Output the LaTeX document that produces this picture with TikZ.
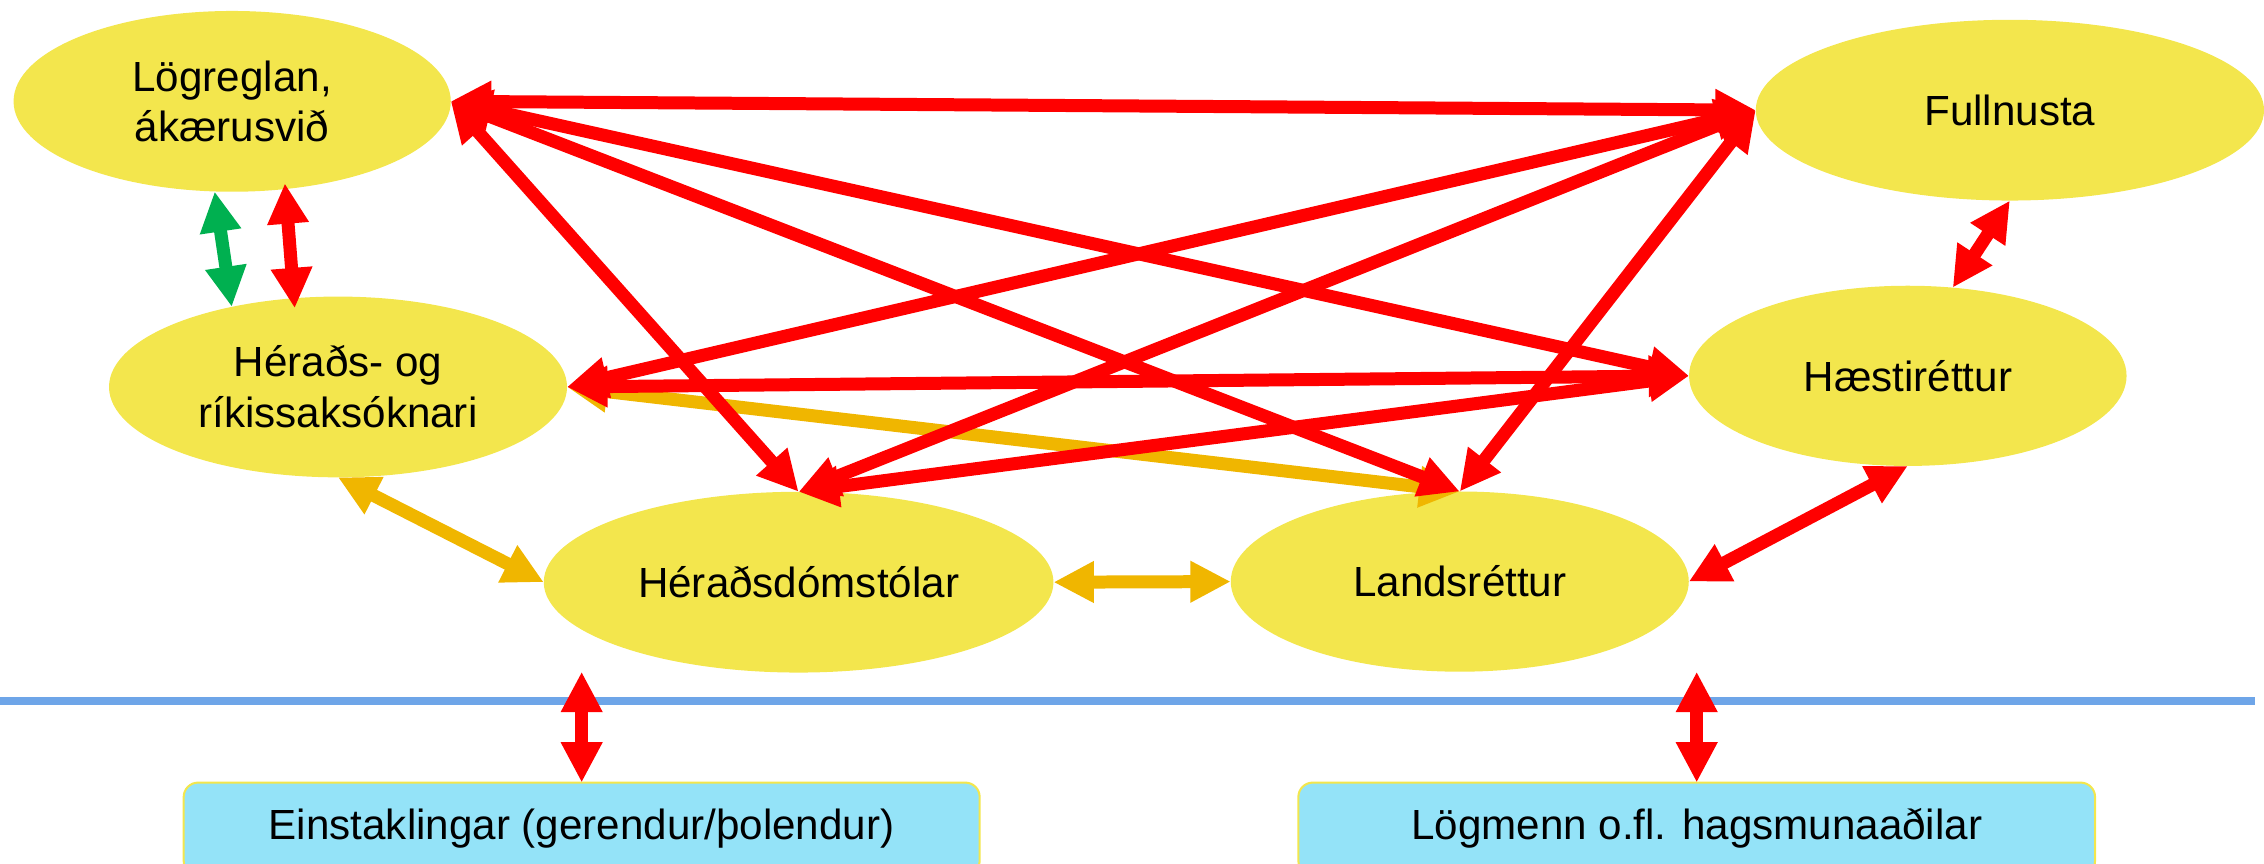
\documentclass[tikz,border=0pt]{standalone}
\usepackage{fontspec}
\setmainfont{Liberation Sans}[Ligatures=NoCommon]
\usetikzlibrary{arrows.meta,shapes.geometric,calc}
\definecolor{ellY}{RGB}{243,230,77}
\definecolor{arrY}{RGB}{240,182,0}
\definecolor{arrG}{RGB}{0,176,80}
\definecolor{arrR}{RGB}{255,0,0}
\definecolor{boxC}{RGB}{148,227,248}
\definecolor{lineB}{RGB}{110,165,232}
\begin{document}
\begin{tikzpicture}[x=0.5pt,y=-0.5pt,
  ell/.style={ellipse, fill=ellY, inner sep=0pt, outer sep=0pt, align=center,
    font=\fontsize{14.6}{17.6}\selectfont},
  box/.style={rectangle, rounded corners=5pt, fill=boxC, draw=ellY, line width=0.7pt,
    inner sep=0pt, outer sep=0pt, font=\fontsize{14.6}{17.6}\selectfont},
  tip/.tip={Triangle[length=14pt,width=13.5pt]},
  conn/.style={line width=4.5pt, tip-tip},
  rconn/.style={conn, draw=arrR, fill=arrR},
  yconn/.style={conn, draw=arrY, fill=arrY},
  gconn/.style={conn, draw=arrG, fill=arrG}]
\useasboundingbox (0,0) rectangle (1568,598);
\clip (0,0) rectangle (1568,598);

% separator line
\draw[lineB, line width=2.75pt] (0,485.7) -- (1561.6,485.7);

% ellipses
\node[ell, minimum width=151.4pt, minimum height=62.6pt] (L) at (160.8,70.2) {Lögreglan,\\ ákærusvið};
\node[ell, minimum width=176pt, minimum height=62.6pt] (F) at (1392,76.3) {Fullnusta};
\node[ell, minimum width=158.6pt, minimum height=62.6pt] (H) at (234.1,268) {Héraðs- og\\ ríkissaksóknari};
\node[ell, minimum width=151.5pt, minimum height=62.4pt] (Hs) at (1321.3,260.3) {Hæstiréttur};
\node[ell, minimum width=176.5pt, minimum height=62.6pt] (Hd) at (553.1,403.2) {Héraðsdómstólar};
\node[ell, minimum width=158.6pt, minimum height=62.4pt] (Ls) at (1011,402.8) {Landsréttur};

% boxes
\node[box, minimum width=275.65pt, minimum height=32pt] (E) at (402.85,574) {Einstaklingar (gerendur/þolendur)};
\node[box, minimum width=275.9pt, minimum height=32pt] (M) at (1175.1,574) {Lögmenn o.fl. hagsmunaaðilar};

\coordinate (e1) at (402.85,465.2);
\coordinate (m1) at (1175.1,465.2);

% yellow connectors
\draw[yconn] (H.east) -- (Ls.north);
\draw[yconn] (H.south) -- (Hd.west);
\draw[yconn] (Hd.east) -- (Ls.west);

% green connector
\draw[gconn] (L.259) -- (H.143);

% red connectors
\draw[rconn] ([yshift=2pt]L.301) -- ([yshift=-3.5pt]H.116);
\draw[rconn] (L.east) -- (F.west);
\draw[rconn] (L.east) -- (Hs.west);
\draw[rconn] (L.east) -- (Hd.north);
\draw[rconn] (L.east) -- (Ls.north);
\draw[rconn] (F.west) -- (H.east);
\draw[rconn] (F.west) -- (Hd.north);
\draw[rconn] (F.west) -- (Ls.north);
\draw[rconn] (Hs.west) -- (H.east);
\draw[rconn] (Hs.west) -- (Hd.north);
\draw[rconn] (F.south) -- (Hs.63);
\draw[rconn] (Ls.east) -- (Hs.south);
\draw[rconn] (e1) -- (E.north);
\draw[rconn] (m1) -- (M.north);
\end{tikzpicture}
\end{document}
